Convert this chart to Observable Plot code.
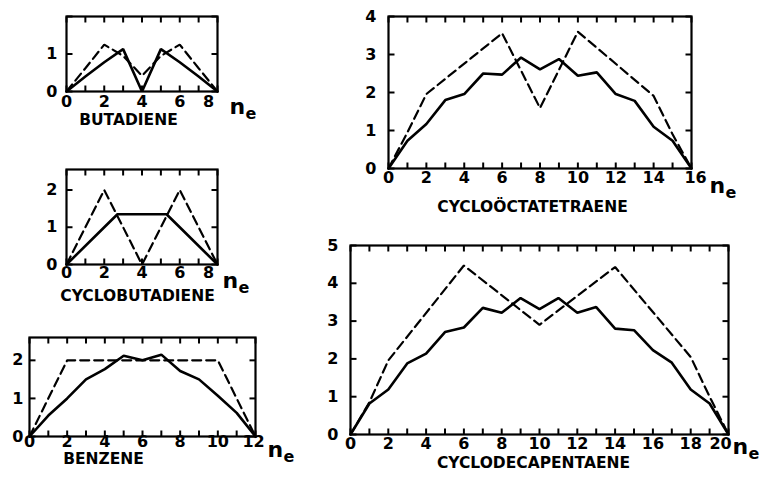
<!DOCTYPE html>
<html><head><meta charset="utf-8">
<script src="https://cdn.jsdelivr.net/npm/d3@7"></script>
<script src="https://cdn.jsdelivr.net/npm/@observablehq/plot@0.6"></script>
<style>
body{margin:0;background:#fff;}
#wrap{position:relative;width:772px;height:484px;background:#fff;}
#wrap svg{position:absolute;max-width:none;background:transparent;}
</style></head><body><div id="wrap"></div>
<script>
// ---- data ----
const butTitle = "BUTADIENE";
const butSolidX = [0,1,2,3,4,5,6,7,8];
const butSolidY = [0,0.4,0.78,1.13,0,1.13,0.78,0.4,0];
const butDashX = [0,1,2,3,4,5,6,7,8];
const butDashY = [0,0.62,1.25,0.95,0.42,0.95,1.25,0.62,0];
const butXLabels = [0,2,4,6,8];
const butYLabels = [0,1];

const cbdTitle = "CYCLOBUTADIENE";
const cbdSolidX = [0,2,2.7,5.3,6,8];
const cbdSolidY = [0,1.0,1.35,1.35,1.0,0];
const cbdDashX = [0,2,4,6,8];
const cbdDashY = [0,2,0,2,0];
const cbdXLabels = [0,2,4,6,8];
const cbdYLabels = [0,1,2];

const benTitle = "BENZENE";
const benSolidX = [0,1,2,3,4,5,6,7,8,9,10,11,12];
const benSolidY = [0,0.55,1.0,1.5,1.77,2.12,2.0,2.15,1.72,1.5,1.07,0.62,0];
const benDashX = [0,2,10,12];
const benDashY = [0,2,2,0];
const benXLabels = [0,2,4,6,8,10,12];
const benYLabels = [0,1,2];

const cotTitle = "CYCLOÖCTATETRAENE";
const cotSolidX = [0,1,2,3,4,5,6,7,8,9,10,11,12,13,14,15,16];
const cotSolidY = [0,0.73,1.17,1.8,1.96,2.5,2.47,2.92,2.61,2.88,2.44,2.53,1.96,1.78,1.1,0.73,0];
const cotDashX = [0,1,2,6,8,10,14,15,16];
const cotDashY = [0,0.95,1.96,3.56,1.59,3.6,1.91,0.9,0];
const cotXLabels = [0,2,4,6,8,10,12,14,16];
const cotYLabels = [0,1,2,3,4];

const cdpTitle = "CYCLODECAPENTAENE";
const cdpSolidX = [0,1,2,3,4,5,6,7,8,9,10,11,12,13,14,15,16,17,18,19,20];
const cdpSolidY = [0,0.82,1.19,1.88,2.14,2.71,2.83,3.35,3.22,3.61,3.32,3.61,3.22,3.37,2.8,2.76,2.23,1.9,1.19,0.82,0];
const cdpDashX = [0,1,2,6,10,14,18,19,20];
const cdpDashY = [0,0.85,1.96,4.47,2.9,4.43,2.05,1.0,0];
const cdpXLabels = [0,2,4,6,8,10,12,14,16,18,20];
const cdpYLabels = [0,1,2,3,4,5];

const axisLabel = ["n", "e"];

// ---- drawing ----
const FONT = "'DejaVu Sans', 'Liberation Sans', sans-serif";
const wrap = document.getElementById("wrap");

function panel(c) {
  const [ml, mr, mt, mb] = c.m;
  const iw = c.R - c.L, ih = c.B - c.T;
  const xTicks = d3.range(0, c.xmax + 1);
  const yTicks = d3.range(0, Math.floor(c.ymax) + 1);
  const sIdx = d3.range(c.sx.length), dIdx = d3.range(c.dx.length);
  const last = c.xLabels[c.xLabels.length - 1];
  const fs = 16;
  const tw = 2;
  const ky = 6 * c.ymax / ih, kx = 6 * c.xmax / iw; // 6px tick length in data units
  const svg = Plot.plot({
    width: iw + ml + mr, height: ih + mt + mb,
    marginLeft: ml, marginRight: mr, marginTop: mt, marginBottom: mb,
    style: {background: "transparent", fontFamily: FONT, fontWeight: "bold"},
    x: {domain: [0, c.xmax], axis: null},
    y: {domain: [0, c.ymax], axis: null},
    marks: [
      Plot.link(xTicks, {x1: d => d, x2: d => d, y1: () => 0, y2: () => ky, stroke: "#000", strokeWidth: tw}),
      Plot.link(xTicks, {x1: d => d, x2: d => d, y1: () => c.ymax, y2: () => c.ymax - ky, stroke: "#000", strokeWidth: tw}),
      Plot.link(yTicks, {y1: d => d, y2: d => d, x1: () => 0, x2: () => kx, stroke: "#000", strokeWidth: tw}),
      Plot.link(yTicks, {y1: d => d, y2: d => d, x1: () => c.xmax, x2: () => c.xmax - kx, stroke: "#000", strokeWidth: tw}),
      Plot.line(dIdx, {x: i => c.dx[i], y: i => c.dy[i], stroke: "#000", strokeWidth: 2.2, strokeDasharray: "9,5", strokeLinejoin: "miter"}),
      Plot.line(sIdx, {x: i => c.sx[i], y: i => c.sy[i], stroke: "#000", strokeWidth: 2.6, strokeLinejoin: "miter"}),
      Plot.frame({stroke: "#000", strokeWidth: 2.2}),
      Plot.text(c.yLabels, {y: d => d, text: d => String(d), frameAnchor: "left", dx: -c.yGap, textAnchor: "end", fontSize: fs, fontWeight: "bold"}),
      Plot.text(c.xLabels.filter(d => d !== last), {x: d => d, text: d => String(d), frameAnchor: "bottom", dy: c.xDy, fontSize: fs, fontWeight: "bold"}),
      Plot.text([last], {x: d => d, text: d => String(d), frameAnchor: "bottom", dy: c.xDy, dx: c.lastDx, fontSize: fs, fontWeight: "bold"}),
      Plot.text([axisLabel[0]], {text: d => d, frameAnchor: "bottom-left", dx: c.nX - c.L, dy: c.nB, lineAnchor: "bottom", textAnchor: "start", fontSize: 22, fontWeight: "bold"}),
      Plot.text([axisLabel[1]], {text: d => d, frameAnchor: "bottom-left", dx: c.nX - c.L + 16, dy: c.nB + 5, lineAnchor: "bottom", textAnchor: "start", fontSize: 16, fontWeight: "bold"}),
      Plot.text([c.title], {text: d => d, frameAnchor: "bottom-left", dx: c.tX - c.L, dy: c.tY - c.B, textAnchor: "middle", fontSize: 15.5, fontWeight: "bold"})
    ]
  });
  svg.style.left = (c.L - ml) + "px";
  svg.style.top = (c.T - mt) + "px";
  wrap.appendChild(svg);
}

panel({L: 66, T: 16, R: 217, B: 91, m: [45, 50, 8, 45], xmax: 8, ymax: 2, sx: butSolidX, sy: butSolidY, dx: butDashX, dy: butDashY,
  xLabels: butXLabels, yLabels: butYLabels, title: butTitle, tX: 128, tY: 124, xDy: 15, yGap: 9, lastDx: -9, nX: 229, nB: 22});
panel({L: 66, T: 169, R: 217, B: 264, m: [45, 50, 10, 46], xmax: 8, ymax: 2.55, sx: cbdSolidX, sy: cbdSolidY, dx: cbdDashX, dy: cbdDashY,
  xLabels: cbdXLabels, yLabels: cbdYLabels, title: cbdTitle, tX: 137, tY: 300, xDy: 13, yGap: 9, lastDx: -9, nX: 222, nB: 23});
panel({L: 29, T: 337, R: 255, B: 436, m: [29, 45, 8, 45], xmax: 12, ymax: 2.6, sx: benSolidX, sy: benSolidY, dx: benDashX, dy: benDashY,
  xLabels: benXLabels, yLabels: benYLabels, title: benTitle, tX: 103, tY: 463, xDy: 10, yGap: 6, lastDx: -2, nX: 267, nB: 20});
panel({L: 388, T: 16, R: 691, B: 168, m: [45, 50, 10, 55], xmax: 16, ymax: 4, sx: cotSolidX, sy: cotSolidY, dx: cotDashX, dy: cotDashY,
  xLabels: cotXLabels, yLabels: cotYLabels, title: cotTitle, tX: 532, tY: 211, xDy: 14, yGap: 12, lastDx: 4, nX: 709, nB: 24});
panel({L: 350, T: 245, R: 728, B: 434, m: [42, 40, 10, 42], xmax: 20, ymax: 5, sx: cdpSolidX, sy: cdpSolidY, dx: cdpDashX, dy: cdpDashY,
  xLabels: cdpXLabels, yLabels: cdpYLabels, title: cdpTitle, tX: 533, tY: 467, xDy: 14, yGap: 12, lastDx: -8, nX: 732, nB: 19});
</script>
</body></html>
